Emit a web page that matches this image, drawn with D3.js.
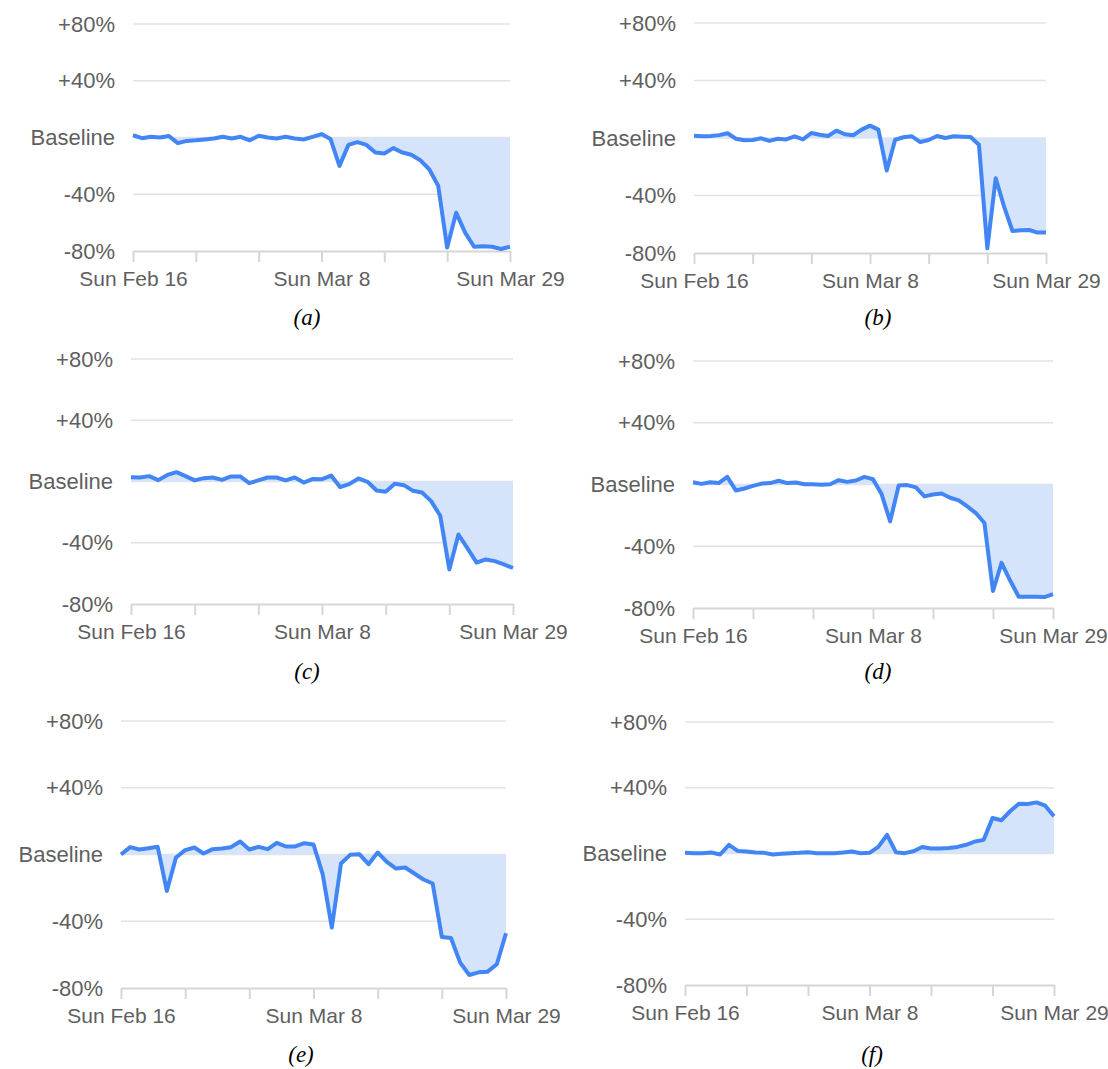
<!DOCTYPE html>
<html>
<head>
<meta charset="utf-8">
<script src="https://cdn.jsdelivr.net/npm/d3@7"></script>
<style>
  body { margin: 0; background: #fff; }
  svg { display: block; }
  .ylab text, .xax text { font-family: "Liberation Sans", Arial, sans-serif; fill: #5f5f5f; }
  .ylab text { font-size: 22px; }
  .xax text { font-size: 21px; }
  .caption { font-family: "Liberation Serif", "Times New Roman", serif; font-style: italic; font-size: 23px; fill: #000; }
</style>
</head>
<body>
<div id="chart"></div>
<script>
// daily values, Sun Feb 16 .. Sun Mar 29 2020 (43 days), % change vs baseline
const seriesA = [1.6,-0.5,0.5,0,1,-4,-2.4,-2,-1.4,-0.7,0.5,-0.7,0.5,-2,1.2,0,-0.7,0.5,-0.7,-1.4,0.5,2.4,-1,-20,-5.2,-3.3,-5.2,-10.6,-11.3,-7.5,-10.6,-12.2,-16,-22.4,-34,-77.6,-53,-67,-77,-76.7,-77,-78.6,-77]
const seriesB = [1.6,1.2,1.4,2,3.3,-0.5,-1.6,-1.4,-0.2,-2,-0.5,-1,1.2,-1,3.5,2.3,1.4,5.1,2.6,1.9,5.8,8.6,5.8,-22.6,-1.2,0.5,1.2,-2.8,-1.4,1.4,0,1.2,0.9,0.7,-4.7,-76.7,-28,-47.7,-64.7,-64.2,-64,-65.8,-65.8]
const seriesC = [2.8,2.6,3.5,0.9,4.3,6.1,3.5,0.7,2.2,2.6,1.1,3.3,3.3,-1.1,0.7,2.6,2.6,0.7,2.6,-0.7,1.7,1.5,3.9,-3.7,-1.7,2,-0.2,-5.9,-6.7,-1.5,-2.4,-6.1,-7.2,-12.8,-22.4,-57.4,-34.6,-43.7,-53,-50.9,-52,-54.1,-56.5]
const seriesD = [1.5,0.4,1.5,0.9,4.9,-3.9,-2.6,-0.9,0.6,0.9,2.4,0.9,1.3,0.2,0.2,-0.2,0.2,2.8,1.7,2.6,4.9,3.4,-6.2,-23.9,-0.6,-0.4,-1.9,-7.7,-6.5,-5.8,-8.6,-10.3,-14.2,-18.5,-24.9,-69,-50.8,-62.2,-72.7,-72.7,-72.7,-72.9,-71]
const seriesE = [0,4.4,3,3.8,4.6,-21.8,-1.8,2.6,4.2,0.6,3.2,3.6,4.4,7.8,3,4.6,3.2,7,4.8,4.8,6.8,6,-11.8,-43.8,-5.4,-0.2,0.2,-5.8,1.2,-4.4,-8.4,-7.8,-11.4,-15,-17.4,-49.4,-50,-64.8,-72.2,-70.6,-70.2,-65.8,-47.2]
const seriesF = [0.4,0.2,0.2,0.6,-0.6,5.3,1.6,1.2,0.6,0.4,-0.6,-0.2,0.2,0.4,0.8,0.2,0.2,0.2,0.6,1.2,0.2,0.4,4,11.3,0.8,0.2,1.4,4,3,3,3.4,4,5.3,7.3,8.3,21.6,20.2,25.7,30.3,30.1,31.1,29.1,22.6]

const captions = ["(a)", "(b)", "(c)", "(d)", "(e)", "(f)"]
const yTicks = [80, 40, 0, -40, -80]
const yTickLabels = ["+80%", "+40%", "Baseline", "-40%", "-80%"]
const labelledDates = ["Sun Feb 16", "Sun Mar 8", "Sun Mar 29"]

const startDate = Date.UTC(2020, 1, 16)
const endDate = Date.UTC(2020, 2, 29)
const dates = d3.utcDay.range(startDate, endDate + 1)
const weekTicks = d3.utcWeek.range(startDate, endDate + 1)

// panel placement on the page
const panels = [
  {data: seriesA, x0: 133, x1: 510, yTop: 24, yBot: 251, cx: 307, cy: 325},
  {data: seriesB, x0: 694, x1: 1046, yTop: 23, yBot: 253, cx: 878, cy: 325},
  {data: seriesC, x0: 131, x1: 513, yTop: 359, yBot: 604, cx: 307, cy: 679},
  {data: seriesD, x0: 693, x1: 1053, yTop: 361, yBot: 608, cx: 878, cy: 679},
  {data: seriesE, x0: 121, x1: 506, yTop: 721, yBot: 988, cx: 301, cy: 1062},
  {data: seriesF, x0: 685, x1: 1054, yTop: 722, yBot: 985, cx: 872, cy: 1062}
]

const width = 1108
const height = 1069

const svg = d3.select("#chart")
  .append("svg")
  .attr("width", width)
  .attr("height", height)

const fmt = d3.utcFormat("%a %b %-d")

panels.forEach((p, i) => {
  const x = d3.scaleUtc().domain([startDate, endDate]).range([p.x0, p.x1])
  const y = d3.scaleLinear().domain([-80, 80]).range([p.yBot, p.yTop])
  const g = svg.append("g")

  // gridlines
  g.selectAll(".grid")
    .data(yTicks.slice(0, 4))
    .enter().append("line")
    .attr("x1", p.x0).attr("x2", p.x1)
    .attr("y1", d => y(d)).attr("y2", d => y(d))
    .attr("stroke", "#e3e3e3")
    .attr("stroke-width", 1.5)

  const pts = p.data.map((v, k) => ({date: dates[k], v: v}))

  g.append("path")
    .datum(pts)
    .attr("fill", "#d5e4fb")
    .attr("d", d3.area()
      .x(d => x(d.date))
      .y0(y(0))
      .y1(d => y(d.v)))

  // x axis
  g.append("g")
    .attr("class", "xax")
    .attr("transform", "translate(0," + p.yBot + ")")
    .call(d3.axisBottom(x)
      .tickValues(weekTicks)
      .tickSize(11)
      .tickPadding(9)
      .tickSizeOuter(0)
      .tickFormat(d => labelledDates.includes(fmt(d)) ? fmt(d) : ""))
    .call(a => a.select(".domain").attr("stroke", "#d6d6d6").attr("stroke-width", 2))
    .call(a => a.selectAll(".tick line").attr("stroke", "#d6d6d6").attr("stroke-width", 2))

  // y labels
  g.append("g")
    .attr("class", "ylab")
    .attr("transform", "translate(" + p.x0 + ",0)")
    .call(d3.axisLeft(y)
      .tickValues(yTicks)
      .tickSize(0)
      .tickPadding(18)
      .tickFormat((d, k) => yTickLabels[k]))
    .call(a => a.select(".domain").remove())

  g.append("path")
    .datum(pts)
    .attr("fill", "none")
    .attr("stroke", "#4285f4")
    .attr("stroke-width", 4)
    .attr("stroke-linejoin", "round")
    .attr("d", d3.line()
      .x(d => x(d.date))
      .y(d => y(d.v)))

  svg.append("text")
    .attr("class", "caption")
    .attr("x", p.cx)
    .attr("y", p.cy)
    .attr("text-anchor", "middle")
    .text(captions[i])
})
</script>
</body>
</html>
